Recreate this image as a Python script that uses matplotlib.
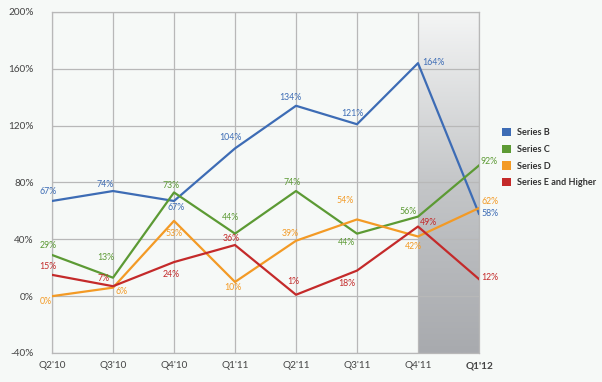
import numpy as np
import matplotlib
matplotlib.use("Agg")
import matplotlib.pyplot as plt
from matplotlib.patches import Patch
from matplotlib.colors import LinearSegmentedColormap

plt.rcParams['font.family'] = ['Lato', 'DejaVu Sans']

# data
quarters = ["Q2'10", "Q3'10", "Q4'10", "Q1'11", "Q2'11", "Q3'11", "Q4'11", "Q1'12"]
series_names = ["Series B", "Series C", "Series D", "Series E and Higher"]
series_b = [67, 74, 67, 104, 134, 121, 164, 58]
series_c = [29, 13, 73, 44, 74, 44, 56, 92]
series_d = [0, 6, 53, 10, 39, 54, 42, 62]
series_e = [15, 7, 24, 36, 1, 18, 49, 12]
y_ticks = [-40, 0, 40, 80, 120, 160, 200]

colors = ["#3d6cb5", "#5c9a34", "#f39a25", "#c42a2a"]

# label offsets in pixels (dx, dy, ha)
offsets_b = [(-4, 9, 'center'), (-8, 7, 'center'), (2, -7, 'center'), (-5, 11, 'center'),
             (-6, 8, 'center'), (-5, 11, 'center'), (4, 1, 'left'), (2, 0, 'left')]
offsets_c = [(-4, 9, 'center'), (-7, 20, 'center'), (-3, 7, 'center'), (-5, 16, 'center'),
             (-4, 9, 'center'), (-11, -9, 'center'), (-10, 5, 'center'), (1, 4, 'left')]
offsets_d = [(-6, -5, 'center'), (9, -4, 'center'), (0, -13, 'center'), (-2, -6, 'center'),
             (-6, 7, 'center'), (-12, 19, 'center'), (-5, -10, 'center'), (2, 7, 'left')]
offsets_e = [(-4, 8, 'center'), (-9, 8, 'center'), (-3, -12, 'center'), (-4, 7, 'center'),
             (-3, 13, 'center'), (-10, -13, 'center'), (2, 4, 'left'), (2, 2, 'left')]

all_series = [series_b, series_c, series_d, series_e]
all_offsets = [offsets_b, offsets_c, offsets_d, offsets_e]

bg = "#f6f9f7"
fig = plt.figure(figsize=(6.02, 3.82), dpi=100, facecolor=bg)
ax = fig.add_axes([52 / 602, 1 - 353 / 382, (479 - 52) / 602, (353 - 12) / 382])
ax.set_facecolor(bg)

x = np.arange(len(quarters))

# shaded last-quarter region with vertical gradient
shade = LinearSegmentedColormap.from_list("shade", ["#a8aaae", "#c4c6c8", "#f4f5f5"])
grad = np.linspace(0, 1, 256).reshape(-1, 1)
ax.imshow(grad, cmap=shade, origin='lower', aspect='auto',
          extent=[x[6], x[7], y_ticks[0], y_ticks[-1]], zorder=0)

for vals, offs, col in zip(all_series, all_offsets, colors):
    ax.plot(x, vals, color=col, lw=1.6, zorder=3)
    for xi, v, (dx, dy, ha) in zip(x, vals, offs):
        ax.annotate(f"{v}%", (xi, v), xytext=(dx, dy), textcoords='offset pixels',
                    ha=ha, va='center', fontsize=6.3, color=col, zorder=4)

ax.set_xlim(x[0], x[-1])
ax.set_ylim(y_ticks[0], y_ticks[-1])
ax.set_xticks(x)
ax.set_xticklabels(quarters)
ax.set_yticks(y_ticks)
ax.set_yticklabels([f"{t}%" for t in y_ticks])
ax.get_xticklabels()[-1].set_fontweight('bold')
ax.tick_params(axis='both', length=0, labelsize=7.2, labelcolor="#444444")
ax.tick_params(axis='y', pad=13)
ax.tick_params(axis='x', pad=6)
ax.grid(True, color="#b8b8b8", lw=0.9, zorder=1)
ax.set_axisbelow(True)
for sp in ax.spines.values():
    sp.set_color("#b8b8b8")
    sp.set_linewidth(0.9)

handles = [Patch(facecolor=c, edgecolor='none') for c in colors]
leg = fig.legend(handles, series_names, loc='upper left', bbox_to_anchor=(494 / 602, 1 - 120 / 382),
                 frameon=False, handlelength=1.0, handleheight=1.0, handletextpad=0.6,
                 labelspacing=0.8, prop={'size': 6.6, 'weight': 'bold'})
for t in leg.get_texts():
    t.set_color("#333333")

fig.savefig("out.png", dpi=100, facecolor=bg)
